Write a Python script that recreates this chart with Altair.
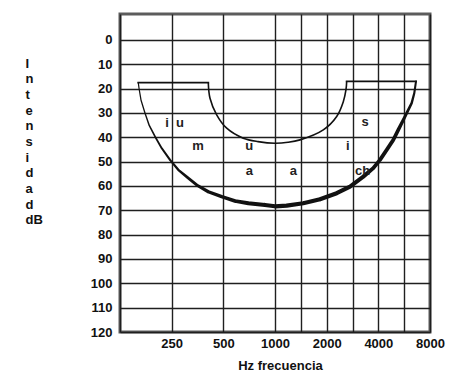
import json
import altair as alt
import pandas as pd

# ---- axis content -------------------------------------------------------
# x is measured in octaves above 125 Hz (0 = 125 Hz ... 6 = 8000 Hz)
freq_pos = [1, 2, 3, 4, 5, 6]
freq_labels = ["250", "500", "1000", "2000", "4000", "8000"]
grid_pos = [0, 1, 2, 3, 3.5, 4, 4.5, 5, 5.5, 6]
db_ticks = [0, 10, 20, 30, 40, 50, 60, 70, 80, 90, 100, 110, 120]
y_title = ["I", "n", "t", "e", "n", "s", "i", "d", "a", "d", "dB"]

# ---- speech banana outline ----------------------------------------------
outer_oct = [0.354, 0.368, 0.406, 0.484, 0.561, 0.677, 0.807, 0.968, 1.128,
             1.322, 1.484, 1.709, 1.968, 2.226, 2.483, 2.806, 3.0, 3.226,
             3.548, 3.871, 4.194, 4.452, 4.709, 4.902, 5.032, 5.162, 5.290,
             5.386, 5.483, 5.580, 5.645, 5.696, 5.729]
outer_db = [17.6, 19.9, 24.7, 30.1, 34.9, 39.7, 44.5, 49.3, 53.4,
            56.8, 59.6, 62.4, 64.4, 66.2, 67.1, 67.8, 68.4, 68.1,
            67.1, 65.5, 63.0, 60.3, 56.2, 52.7, 49.3, 45.2, 41.1,
            37.0, 32.9, 28.8, 26.0, 21.9, 17.1]

inner_oct = [1.709, 1.742, 1.871, 2.065, 2.386, 2.671, 3.0, 3.252, 3.484,
             3.935, 4.194, 4.322, 4.374, 4.387]
inner_db = [17.6, 24.0, 30.8, 36.3, 40.4, 41.8, 42.5, 42.1, 41.1,
            37.0, 31.5, 25.4, 20.5, 17.1]

top_start = [0.354, 4.387]
top_end = [1.709, 5.729]
top_db = [17.6, 17.1]

# ---- phonemes ------------------------------------------------------------
phon_text = ["i", "u", "m", "u", "a", "a", "s", "i", "ch"]
phon_oct = [0.910, 1.161, 1.510, 2.503, 2.503, 3.354, 4.742, 4.407, 4.697]
phon_db = [33.7, 33.7, 43.4, 43.4, 53.4, 53.4, 33.3, 43.4, 53.4]

# ---- tables --------------------------------------------------------------
outer_df = pd.DataFrame({"oct": outer_oct, "db": outer_db,
                         "order": list(range(len(outer_oct)))})
inner_df = pd.DataFrame({"oct": inner_oct, "db": inner_db,
                         "order": list(range(len(inner_oct)))})
top_df = pd.DataFrame({"oct": top_start, "oct2": top_end, "db": top_db})
phon_df = pd.DataFrame({"t": phon_text, "oct": phon_oct, "db": phon_db})

FONT = "Liberation Sans"
INK = "#111111"

label_expr = ("indexof({p}, datum.value) >= 0 ? {l}[indexof({p}, datum.value)] : ''"
              .format(p=json.dumps(freq_pos), l=json.dumps(freq_labels)))

x_scale = alt.Scale(domain=[0, 6], nice=False, zero=False)
y_scale = alt.Scale(domain=[-10.6, 120], nice=False, zero=False, reverse=True)

x_axis = alt.Axis(values=grid_pos, labelExpr=label_expr, grid=True, ticks=False,
                  domain=False, labelFont=FONT, labelFontSize=13,
                  labelFontWeight="bold", labelColor=INK, labelPadding=5,
                  labelFlush=False, labelOverlap=False, labelBound=False,
                  title="Hz frecuencia", titleFont=FONT, titleFontSize=13,
                  titleFontWeight="bold", titleColor=INK, titleX=160, titleY=37,
                  titleBaseline="alphabetic", titleAlign="center")
y_axis = alt.Axis(values=db_ticks, grid=True, ticks=False, domain=False,
                  labelFont=FONT, labelFontSize=13, labelFontWeight="bold",
                  labelColor=INK, labelPadding=8, labelFlush=False,
                  labelOverlap=False, labelBound=False,
                  title=y_title, titleFont=FONT, titleFontSize=13,
                  titleFontWeight="bold", titleColor=INK, titleAngle=0,
                  titleAlign="left", titleBaseline="top", titleX=-95, titleY=43,
                  titleLineHeight=15.7)


def X(field="oct"):
    return alt.X(field + ":Q", scale=x_scale, axis=x_axis)


def Y():
    return alt.Y("db:Q", scale=y_scale, axis=y_axis)


# stroke of the outer arc: thin at the left top, heavy at the bottom/right
outer = alt.Chart(outer_df).mark_trail(color=INK).encode(
    x=X(), y=Y(),
    order="order:Q",
    size=alt.Size("oct:Q", legend=None,
                  scale=alt.Scale(type="linear",
                                  domain=[0.35, 0.7, 1.5, 2.5, 4.5, 5.4, 5.73],
                                  range=[1.2, 1.7, 3.0, 4.0, 4.2, 3.6, 2.0])),
)

inner = alt.Chart(inner_df).mark_line(color=INK, strokeWidth=1.6,
                                      interpolate="catmull-rom").encode(
    x=X(), y=Y(), order="order:Q")

tops = alt.Chart(top_df).mark_rule(color=INK, strokeWidth=1.8,
                                   strokeCap="square").encode(
    x=X(), x2="oct2:Q", y=Y())

phon = alt.Chart(phon_df).mark_text(font=FONT, fontSize=13, fontWeight="bold",
                                    color="#222222", baseline="middle",
                                    dy=1).encode(
    x=X(), y=Y(), text="t:N")

chart = alt.layer(outer, inner, tops, phon).properties(
    width=310, height=318,
    autosize=alt.AutoSizeParams(type="none"),
    padding={"left": 112, "top": 6, "right": 36, "bottom": 40},
    background="white",
).configure_axis(
    gridColor="#1f1f1f", gridWidth=1.4, gridOpacity=1, labelOverlap=False,
).configure_view(
    stroke="#5c5c5c", strokeWidth=3,
)

chart.save("out.html", embed_options={"renderer": "svg", "actions": False})
